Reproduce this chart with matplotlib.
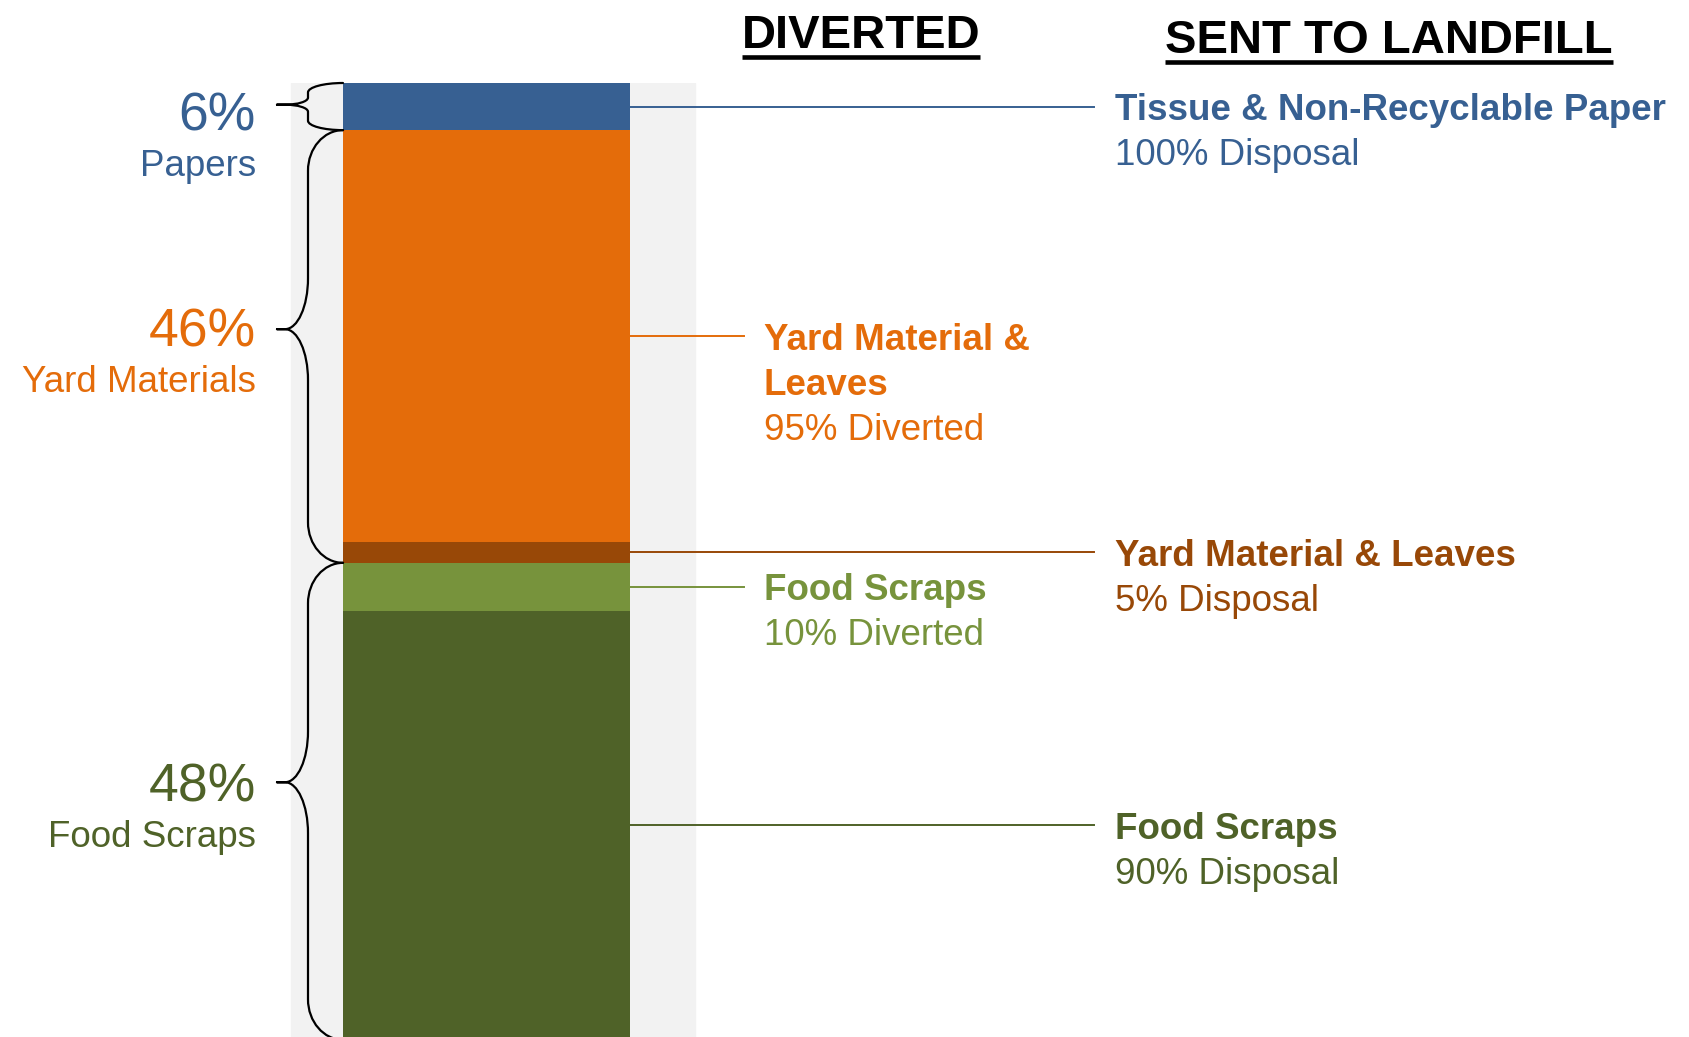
import numpy as np
import matplotlib
matplotlib.use('Agg')
import matplotlib.pyplot as plt
from matplotlib.path import Path
from matplotlib.patches import PathPatch
from matplotlib.lines import Line2D

plt.rcParams['font.family'] = ['Liberation Sans', 'DejaVu Sans']

# Segment heights as drawn in the stacked bar (top to bottom)
segments = ['Papers', 'Yard diverted', 'Yard disposal', 'Food diverted', 'Food disposal']
seg_heights = [5.0, 43.7, 2.2, 5.1, 45.5]
seg_colors = ['#376092', '#e46c0a', '#984807', '#77933c', '#4f6228']

# Brace groups on the left
group_pct = ['6%', '46%', '48%']
group_names = ['Papers', 'Yard Materials', 'Food Scraps']
group_sizes = [1, 2, 2]
group_colors = ['#376092', '#e46c0a', '#4f6228']

# Call-outs on the right, one per segment
callout_titles = ['Tissue & Non-Recyclable Paper', 'Yard Material &\nLeaves',
                  'Yard Material & Leaves', 'Food Scraps', 'Food Scraps']
callout_notes = ['100% Disposal', '95% Diverted', '5% Disposal',
                 '10% Diverted', '90% Disposal']
callout_side = ['landfill', 'diverted', 'landfill', 'diverted', 'landfill']

headers = ['DIVERTED', 'SENT TO LANDFILL']

# layout (pixels)
W, H = 1690, 1037
BAR_TOP = 83
BAR_L, BAR_R = 343, 630
BG_L, BG_R = 291, 695
TEXT_X = {'diverted': 764, 'landfill': 1115}
LINE_X = {'diverted': 744, 'landfill': 1094}
PCT_MIN = 5.0  # keep the big percentage label below the top of the bar

fig = plt.figure(figsize=(W / 100, H / 100), dpi=100)
ax = fig.add_axes([0, 0, 1, (H - BAR_TOP) / H])
ax.set_xlim(0, W)
ax.set_ylim(101.2, 0)
ax.axis('off')

cum = np.concatenate([[0], np.cumsum(seg_heights)])
bottoms = cum[:-1]
mids = bottoms + np.array(seg_heights) / 2

ax.axvspan(BG_L, BG_R, color='#f2f2f2', zorder=0)
ax.bar((BAR_L + BAR_R) / 2, seg_heights, width=BAR_R - BAR_L, bottom=bottoms,
       color=seg_colors, zorder=2)

K = 0.552


def brace(y0, y1, frac=0.46, x_end=BAR_L, x_v=308, x_tip=277, stub=8):
    span = y1 - y0
    r_end = min(4.3, 0.2 * span)
    r_mid = min(5.4, 0.15 * span)
    ym = y0 + frac * span
    dx_e = x_end - x_v
    dx_m = x_v - (x_tip + stub)
    xs = x_tip + stub
    verts = [(x_end, y0),
             (x_end - K * dx_e, y0), (x_v, y0 + r_end - K * r_end), (x_v, y0 + r_end),
             (x_v, ym - r_mid),
             (x_v, ym - r_mid + K * r_mid), (xs + K * dx_m, ym), (xs, ym),
             (x_tip, ym),
             (xs, ym),
             (xs + K * dx_m, ym), (x_v, ym + r_mid - K * r_mid), (x_v, ym + r_mid),
             (x_v, y1 - r_end),
             (x_v, y1 - r_end + K * r_end), (x_end - K * dx_e, y1), (x_end, y1)]
    C, L = Path.CURVE4, Path.LINETO
    codes = [Path.MOVETO, C, C, C, L, C, C, C, L, L, C, C, C, L, C, C, C]
    ax.add_patch(PathPatch(Path(verts, codes), fill=False, lw=1.6,
                           edgecolor='black', clip_on=False, zorder=3,
                           joinstyle='round', capstyle='round'))


bounds = cum[np.concatenate([[0], np.cumsum(group_sizes)])]
for g in range(len(group_pct)):
    y0, y1 = bounds[g], bounds[g + 1]
    brace(y0, y1)
    base = max((y0 + y1) / 2, PCT_MIN)
    ax.text(256, base, group_pct[g], ha='right', va='baseline',
            fontsize=38.5, color=group_colors[g], clip_on=False)
    ax.annotate(group_names[g], xy=(256, base), xytext=(0, -46 * 0.72),
                textcoords='offset points', ha='right', va='baseline',
                fontsize=26.5, color=group_colors[g], annotation_clip=False)

for i in range(len(segments)):
    side = callout_side[i]
    y = mids[i]
    ax.plot([BAR_R, LINE_X[side]], [y, y], color=seg_colors[i], lw=1.4,
            clip_on=False, zorder=3)
    lines = callout_titles[i].split('\n')
    for k, t in enumerate(lines):
        ax.annotate(t, xy=(TEXT_X[side], y), xytext=(0, -(13.5 + 45 * k) * 0.72),
                    textcoords='offset points', ha='left', va='baseline',
                    fontsize=26.5, fontweight='bold', color=seg_colors[i],
                    annotation_clip=False)
    ax.annotate(callout_notes[i], xy=(TEXT_X[side], y),
                xytext=(0, -(13.5 + 45 * len(lines)) * 0.72),
                textcoords='offset points', ha='left', va='baseline',
                fontsize=26.5, color=seg_colors[i], annotation_clip=False)

# column headers with underline
hdr_texts = []
for label, cx, base in zip(headers, [861, 1389], [48, 53]):
    hdr_texts.append(fig.text(cx / W, 1 - base / H, label, ha='center', va='baseline',
                              fontsize=34, fontweight='bold', color='black'))

fig.canvas.draw()
for t, uy in zip(hdr_texts, [57, 61.5]):
    bb = t.get_window_extent()
    y = 1 - uy / H
    fig.add_artist(Line2D([bb.x0 / W, bb.x1 / W], [y, y], transform=fig.transFigure,
                          color='black', lw=3.3, solid_capstyle='butt'))

fig.savefig('out.png', dpi=100)
